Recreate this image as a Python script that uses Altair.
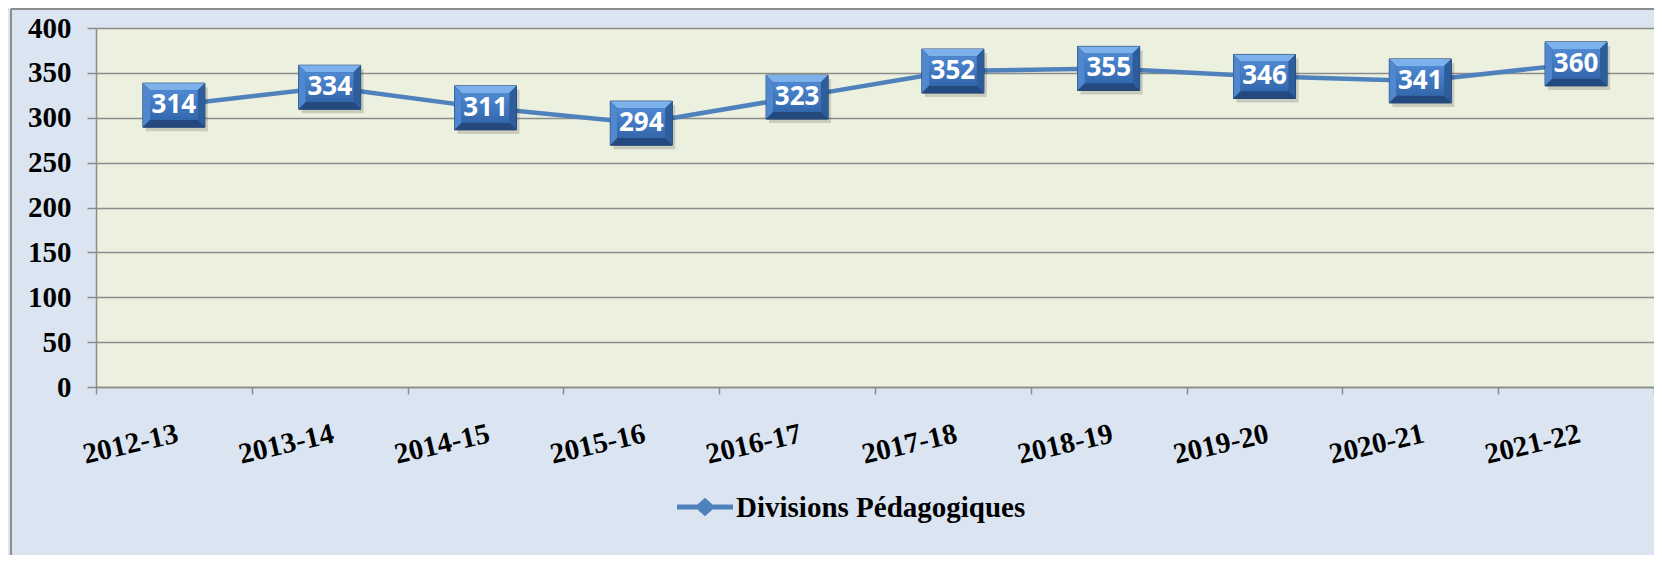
import altair as alt
import pandas as pd

# ---- data ----
years = ["2012-13", "2013-14", "2014-15", "2015-16", "2016-17",
         "2017-18", "2018-19", "2019-20", "2020-21", "2021-22"]
values = [314, 334, 311, 294, 323, 352, 355, 346, 341, 360]
series_name = "Divisions Pédagogiques"
y_ticks = [0, 50, 100, 150, 200, 250, 300, 350, 400]

df = pd.DataFrame({"year": years, "value": values})
legend_df = pd.DataFrame({"label": [series_name]})
one_row = pd.DataFrame({"a": [0]})

W, H = 1558, 359
PAD = {"left": 88, "top": 20, "right": 0, "bottom": 168}

GRID = "#8C8C8C"
LINE = "#4F81BD"
SERIF = "Liberation Serif"
FS = 29

# box shapes (custom symbol paths, unit box -1..1 scaled by sqrt(size)/2)
BOX = "M-1,-0.71L1,-0.71L1,0.71L-1,0.71Z"
TOP = "M-1,-0.71L1,-0.71L0.77,-0.48L-0.77,-0.48Z"
BOT = "M-1,0.71L1,0.71L0.77,0.48L-0.77,0.48Z"
LEFT = "M-1,-0.71L-0.77,-0.48L-0.77,0.48L-1,0.71Z"
RIGHT = "M1,-0.71L0.77,-0.48L0.77,0.48L1,0.71Z"
FACE = "M-0.77,-0.48L0.77,-0.48L0.77,0.48L-0.77,0.48Z"
BOX_SIZE = 62 * 62

LEG = ("M-1,-0.09L-0.27,-0.09L0,-0.33L0.27,-0.09L1,-0.09L1,0.09"
       "L0.27,0.09L0,0.33L-0.27,0.09L-1,0.09Z")

x_enc = alt.X(
    "year:N", sort=years,
    scale=alt.Scale(type="band", paddingInner=0, paddingOuter=0),
    axis=alt.Axis(
        title=None, labelAngle=-13, labelAlign="right", labelBaseline="top",
        labelFont=SERIF, labelFontWeight="bold", labelFontSize=FS,
        labelColor="black", labelPadding=25, tickSize=7, tickColor=GRID,
        tickWidth=1.5, domainColor=GRID, domainWidth=1.5, grid=False,
        tickBand="extent", labelOverlap=False,
    ),
)
y_enc = alt.Y(
    "value:Q",
    scale=alt.Scale(domain=[0, 400], nice=False),
    axis=alt.Axis(
        title=None, values=y_ticks, labelFont=SERIF, labelFontWeight="bold",
        labelFontSize=FS, labelColor="black", labelPadding=16, tickSize=9,
        tickColor=GRID, tickWidth=1.5, domainColor=GRID, domainWidth=1.5,
        grid=True, gridColor=GRID, gridWidth=1.5,
    ),
)

base = alt.Chart(df).encode(x=x_enc, y=y_enc)

line = base.mark_line(color=LINE, strokeWidth=4.5)


def piece(shape, opacity=1, **kw):
    return base.mark_point(shape=shape, size=BOX_SIZE, filled=True,
                           opacity=opacity, strokeWidth=0, **kw)


shadow = piece(BOX, color="black", opacity=0.15, xOffset=3, yOffset=4)
box = base.mark_point(shape=BOX, size=BOX_SIZE, filled=True, opacity=1,
                      fill="#2D5B9B", stroke="#1F3D69", strokeWidth=1)
top = piece(TOP, color="#7DB1EC")
left = piece(LEFT, color="#5087CE")
right = piece(RIGHT, color="#2E5D9C")
bot = piece(BOT, color="#24497F")
face = piece(FACE, color=alt.LinearGradient(
    gradient="linear",
    stops=[alt.GradientStop(color="#4F89D2", offset=0),
           alt.GradientStop(color="#3367AC", offset=1)],
    x1=0, x2=0, y1=0, y2=1))

labels = base.mark_text(font="Open Sans", fontWeight="bold", fontSize=26,
                        color="white", baseline="middle", align="center"
                        ).encode(text="value:Q")

# legend (drawn below the plot)
leg_sym = alt.Chart(legend_df).mark_point(
    shape=LEG, size=56 * 56, filled=True, opacity=1, color=LINE, strokeWidth=0
).encode(x=alt.value(609), y=alt.value(479))
leg_txt = alt.Chart(legend_df).mark_text(
    font=SERIF, fontWeight="bold", fontSize=FS, color="black",
    align="left", baseline="middle"
).encode(x=alt.value(640), y=alt.value(480), text="label:N")

# outer chart border (left and top)
border_l = alt.Chart(one_row).mark_rule(color=GRID, strokeWidth=2).encode(
    x=alt.value(-85), y=alt.value(-19), y2=alt.value(H + PAD["bottom"]))
border_t = alt.Chart(one_row).mark_rule(color=GRID, strokeWidth=2).encode(
    x=alt.value(-85), x2=alt.value(W), y=alt.value(-19))

chart = alt.layer(
    line, shadow, box, top, left, right, bot, face, labels,
    leg_sym, leg_txt, border_l, border_t
).properties(
    width=W, height=H,
    autosize=alt.AutoSizeParams(type="none"),
    padding=PAD,
    background="#DBE5F1",
).configure_view(fill="#EBF0DF", stroke="transparent")

chart.save("out.html", embed_options={"renderer": "svg", "actions": False})
